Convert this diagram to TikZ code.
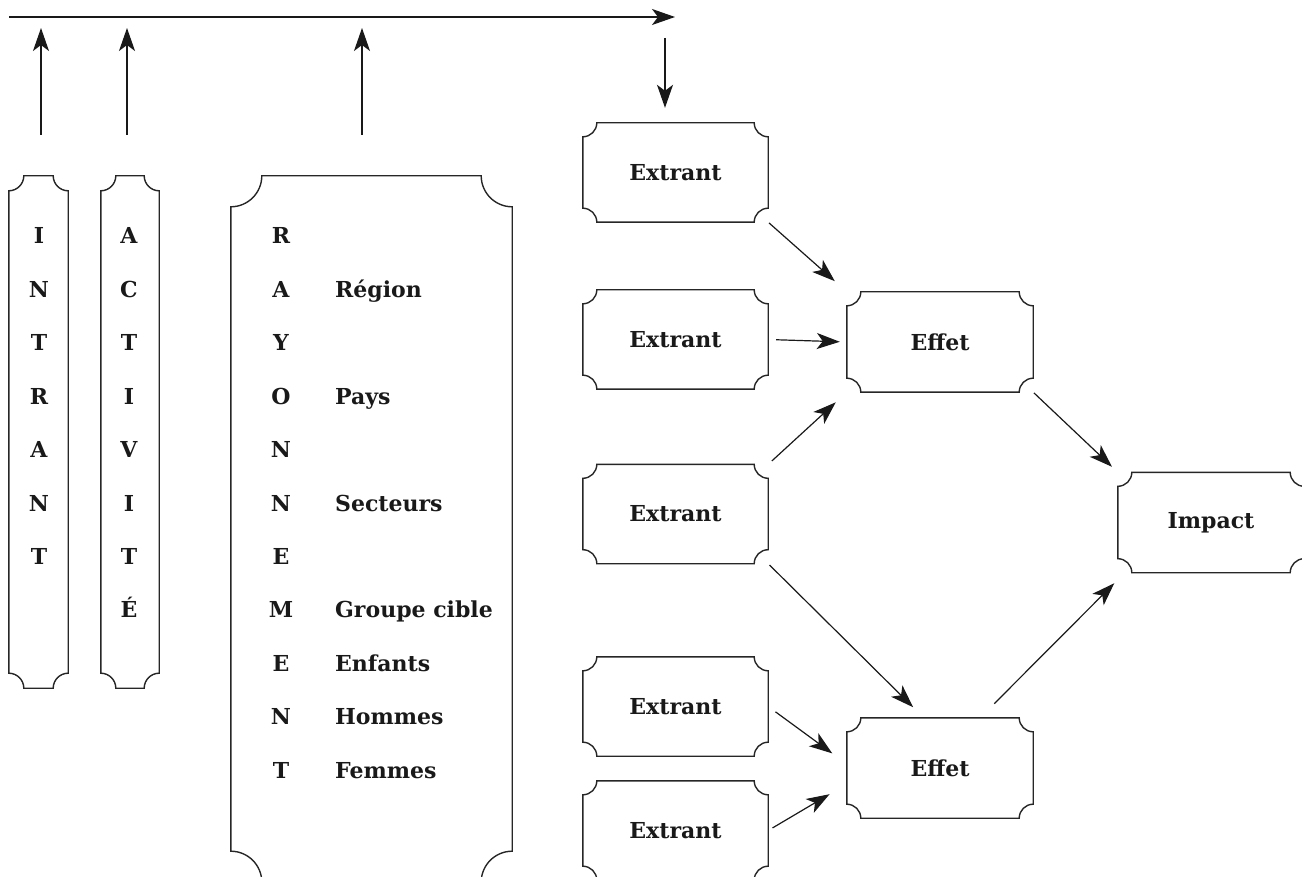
\documentclass[tikz,border=0pt]{standalone}
\usepackage{fontspec}
\setmainfont{DejaVu Serif}
\usetikzlibrary{arrows.meta,calc}
\newcommand\ticketbox[2]{%
 \draw[boxline] ($(#1.north west)+(#2,0)$) -- ($(#1.north east)+(-#2,0)$)
   arc[start angle=180,end angle=90,radius=#2]
   -- ($(#1.south east)+(0,-#2)$)
   arc[start angle=270,end angle=180,radius=#2]
   -- ($(#1.south west)+(#2,0)$)
   arc[start angle=360,end angle=270,radius=#2]
   -- ($(#1.north west)+(0,#2)$)
   arc[start angle=90,end angle=0,radius=#2] -- cycle;}
\begin{document}
\begin{tikzpicture}[x=1pt,y=-1pt,
  boxline/.style={line width=1.4pt, draw=black!85},
  conn/.style={line width=1.2pt, draw=black!90, -{Stealth[length=23pt,width=16pt,inset=6pt]}},
  lbl/.style={font=\fontsize{22}{22}\selectfont\bfseries, text=black!90},
  frame/.style={inner sep=0pt, lbl},
  smallbox/.style={frame, minimum width=185pt, minimum height=99pt},
  ltr/.style={lbl, inner sep=0pt, anchor=base},
  word/.style={lbl, inner sep=0pt, anchor=base west}]
\useasboundingbox (0,0) rectangle (1302,877);
\clip (0,0) rectangle (1302,877);

% tall boxes
\node[frame, minimum width=59pt, minimum height=512pt] (intr) at (38.5,432) {};
\node[frame, minimum width=58pt, minimum height=512pt] (acti) at (130,432) {};
\node[frame, minimum width=281pt, minimum height=706pt] (rayo) at (371.5,529) {};
\ticketbox{intr}{15}
\ticketbox{acti}{15}
\ticketbox{rayo}{31}

% letters
\foreach \c [count=\k from 0] in {I,N,T,R,A,N,T}
  \node[ltr] (in\k) at (39,{244+53.4*\k}) {\c};
\foreach \c [count=\k from 0] in {A,C,T,I,V,I,T,É}
  \node[ltr] (ac\k) at (129,{244+53.4*\k}) {\c};
\foreach \c [count=\k from 0] in {R,A,Y,O,N,N,E,M,E,N,T}
  \node[ltr] (ra\k) at (281,{244+53.4*\k}) {\c};
\foreach \w/\k in {Région/1,Pays/3,Secteurs/5,Groupe cible/7,Enfants/8,Hommes/9,Femmes/10}
  \node[word] (w\k) at (335,{244+53.4*\k}) {\w};

% small boxes
\node[smallbox] (e1) at (675.5,172.5) {Extrant};
\node[smallbox] (e2) at (675.5,339.5) {Extrant};
\node[smallbox] (e3) at (675.5,514) {Extrant};
\node[smallbox] (e4) at (675.5,706.5) {Extrant};
\node[smallbox] (e5) at (675.5,830.5) {Extrant};
\node[smallbox, minimum width=186pt, minimum height=100pt] (ef1) at (940,342) {Effet};
\node[smallbox, minimum width=186pt, minimum height=100pt] (ef2) at (940,768) {Effet};
\node[smallbox, minimum width=186pt, minimum height=100pt] (imp) at (1211,522.5) {Impact};
\foreach \b in {e1,e2,e3,e4,e5,ef1,ef2,imp} {\ticketbox{\b}{14}}

% top feedback line
\coordinate (tl) at (9,17);
\coordinate (tr) at (675,17);
\coordinate (u1s) at (41,135);  \coordinate (u1e) at (41,28);
\coordinate (u2s) at (127,135); \coordinate (u2e) at (127,28);
\coordinate (u3s) at (362,135); \coordinate (u3e) at (362,28);
\coordinate (ds) at (665,38);
\draw[conn] (tl) -- (tr);
\draw[conn] (u1s) -- (u1e);
\draw[conn] (u2s) -- (u2e);
\draw[conn] (u3s) -- (u3e);
\draw[conn, shorten >=15pt] (ds) -- ($(e1.north)+(-10.5,0)$);

% connectors
\draw[conn, shorten <=1pt, shorten >=16pt] (e1.south east) -- (ef1.north west);
\draw[conn, shorten <=8pt, shorten >=7pt] (e2.east) -- (ef1.west);
\draw[conn, shorten <=5pt, shorten >=15pt] (e3.north east) -- (ef1.south west);
\draw[conn, shorten <=2pt, shorten >=15pt] (e3.south east) -- ($(ef2.north west)+(77,0)$);
\draw[conn, shorten <=9pt, shorten >=18pt] (e4.east) -- ($(ef2.west)+(0,-4)$);
\draw[conn, shorten <=5pt, shorten >=20pt] (e5.east) -- ($(ef2.west)+(0,16)$);
\draw[conn, shorten <=1pt, shorten >=8pt] (ef1.south east) -- (imp.north west);
\draw[conn, shorten <=20pt, shorten >=5pt] ($(ef2.north east)+(-53,0)$) -- ($(imp.south west)+(0,7)$);
\end{tikzpicture}
\end{document}
